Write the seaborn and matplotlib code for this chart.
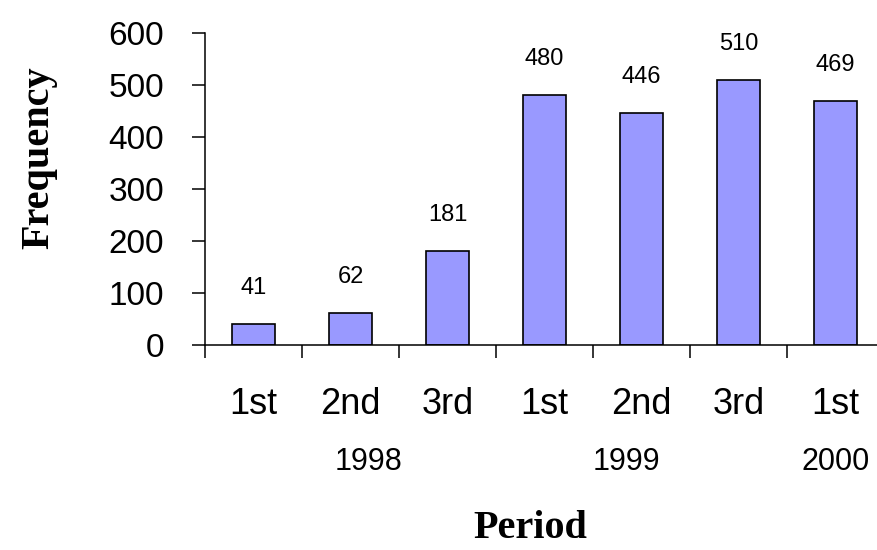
import pandas as pd
import matplotlib
matplotlib.use("Agg")
import matplotlib.pyplot as plt
import seaborn as sns

# dados
periodos = ["1st", "2nd", "3rd", "1st", "2nd", "3rd", "1st"]
frequencias = [41, 62, 181, 480, 446, 510, 469]
anos = ["1998", "1999", "2000"]
anos_pos = [1.19, 3.85, 6.0]

df = pd.DataFrame({"pos": list(range(len(periodos))), "freq": frequencias})

sns.set_style("ticks")
plt.rcParams["font.family"] = ["Liberation Sans", "DejaVu Sans"]
plt.rcParams.update({"text.color": "black", "axes.labelcolor": "black",
                     "xtick.color": "black", "ytick.color": "black"})

fig = plt.figure(figsize=(8.78, 5.5), dpi=100)
ax = fig.add_axes([0.2335, 0.3727, 0.7733, 0.5673])

sns.barplot(data=df, x="pos", y="freq", color="#9999FF", saturation=1,
            width=0.45, edgecolor="black", linewidth=1.2, ax=ax)

# rótulos de valor acima das barras
for i, v in enumerate(frequencias):
    ax.annotate(str(v), (i, v), xytext=(0, 18), textcoords="offset points",
                ha="center", va="bottom", fontsize=17)

ax.set_xlim(-0.5, 6.5)
ax.set_ylim(0, 600)
ax.set_yticks(range(0, 601, 100))
ax.tick_params(axis="y", labelsize=24, length=9.5, width=1.1, pad=20)

ax.set_xticks(range(len(periodos)))
ax.set_xticklabels(periodos)
ax.tick_params(axis="x", which="major", length=0, labelsize=26, pad=30)
ax.set_xticks([i - 0.5 for i in range(len(periodos) + 1)], minor=True)
ax.tick_params(axis="x", which="minor", length=9.5, width=1.1)

for ano, p in zip(anos, anos_pos):
    ax.text(p, -0.375, ano, transform=ax.get_xaxis_transform(),
            ha="center", va="center", fontsize=22)

sns.despine(ax=ax)
for s in ["left", "bottom"]:
    ax.spines[s].set_color("black")
    ax.spines[s].set_linewidth(1.1)

ax.set_ylabel("Frequency", family="Liberation Serif", fontweight="bold", fontsize=29)
ax.yaxis.set_label_coords(-0.218, 0.60)
ax.set_xlabel("Period", family="Liberation Serif", fontweight="bold", fontsize=29)
ax.xaxis.set_label_coords(0.479, -0.53)

fig.savefig("out.png", dpi=100)
plt.close(fig)
